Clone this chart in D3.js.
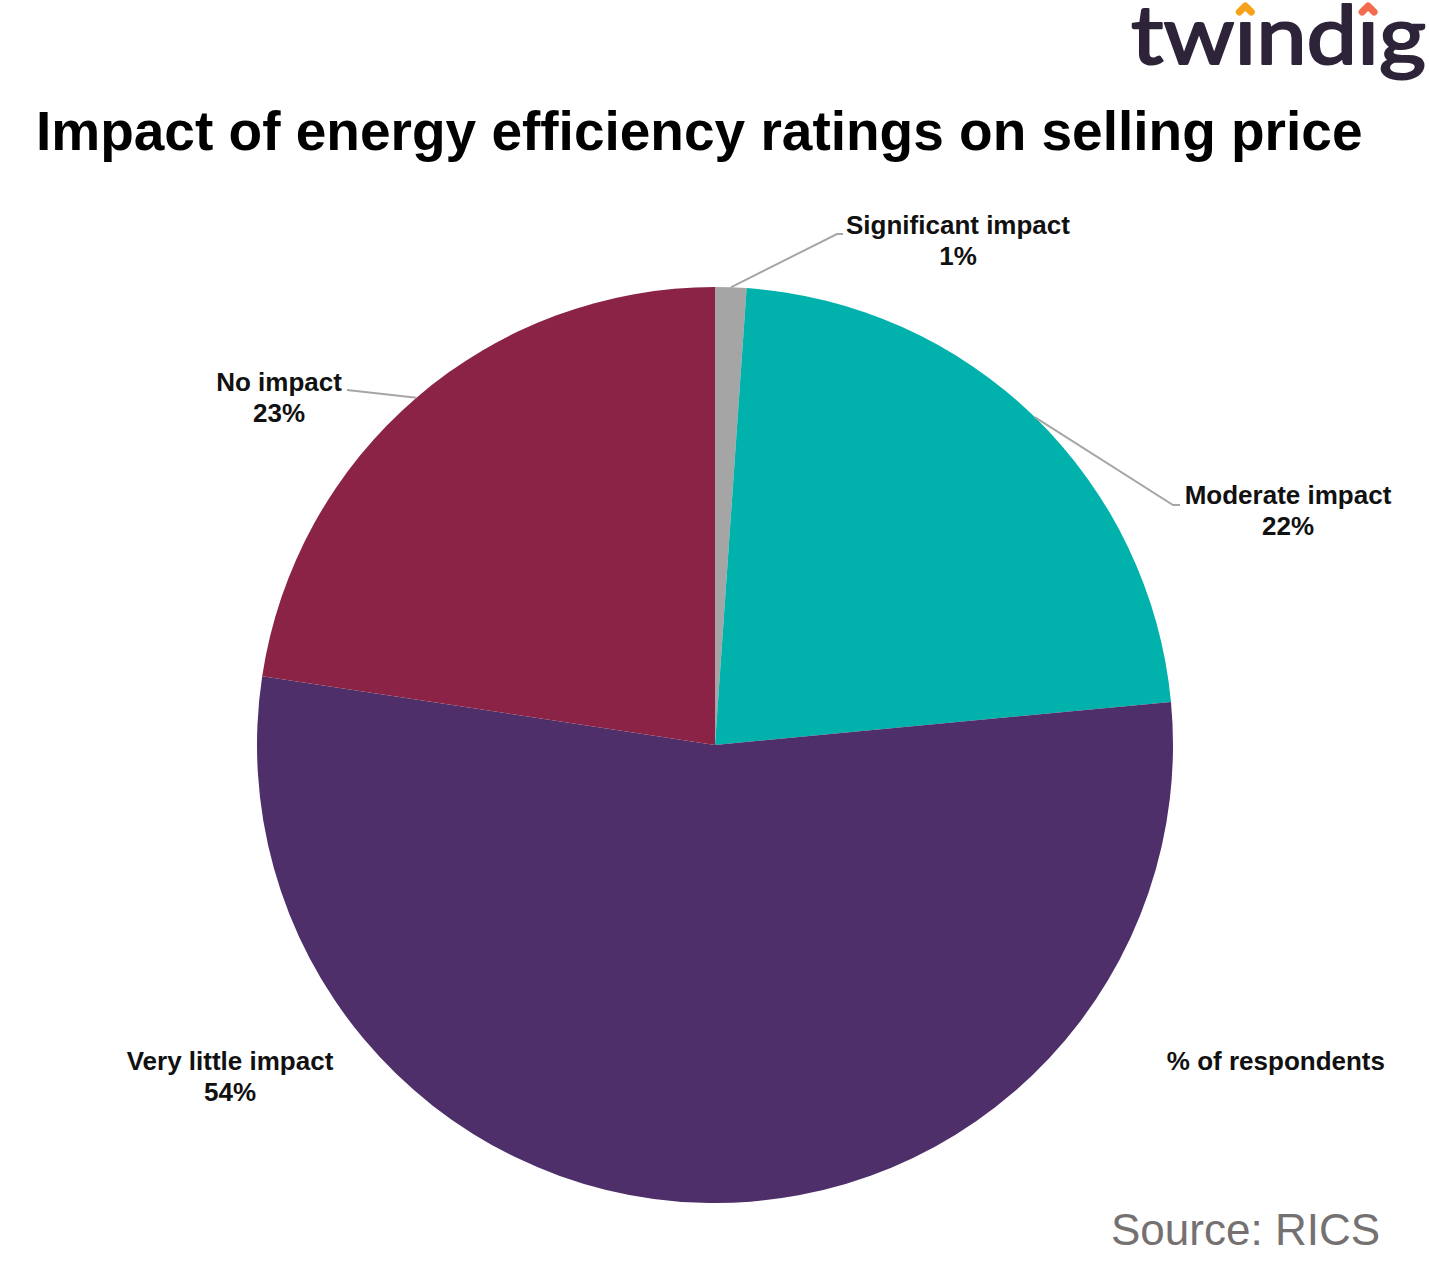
<!DOCTYPE html>
<html>
<head>
<meta charset="utf-8">
<script src="https://cdn.jsdelivr.net/npm/d3@7"></script>
<style>
  html, body { margin: 0; padding: 0; background: #ffffff; }
  svg { display: block; }
</style>
</head>
<body>
<svg id="chart" width="1429" height="1285"></svg>
<script>
// ---- data ----
const categories = ["Significant impact", "Moderate impact", "Very little impact", "No impact"];
const values = [1.1, 22.4, 53.9, 22.6];
const colors = ["#A5A5A5", "#00B2AB", "#4E2F69", "#8A2345"];
const titleText = "Impact of energy efficiency ratings on selling price";
const seriesName = "% of respondents";
const sourceText = "Source: RICS";
const brandText = "twindig";

// ---- layout ----
const W = 1429, H = 1285;
const cx = 715, cy = 745, R = 458;
const labelLayout = [
  { x: 958, y: 234, elbow: [837, 234], end: [843, 234] },
  { x: 1288, y: 504, elbow: [1173, 505], end: [1180, 505] },
  { x: 230, y: 1070, elbow: null },
  { x: 279, y: 391, elbow: [347, 390], end: [347, 390] }
];

const svg = d3.select("#chart");
svg.append("rect").attr("width", W).attr("height", H).attr("fill", "#fff");

// logo
const logo = svg.append("g");
const logoText = logo.append("text")
  .attr("x", 1131).attr("y", 64)
  .attr("font-family", "Lato, 'Open Sans', sans-serif")
  .attr("font-weight", 400)
  .attr("font-size", 82)
  .attr("fill", "#2E2439")
  .attr("stroke", "#2E2439")
  .attr("stroke-width", 2.2)
  .attr("stroke-linejoin", "round")
  .attr("textLength", 295)
  .attr("lengthAdjust", "spacingAndGlyphs")
  .text(brandText);
const caretColors = ["#F7A21B", "#F26B4F"];
[2, 5].forEach((ci, k) => {
  let ext;
  try { ext = logoText.node().getExtentOfChar(ci); } catch (e) { ext = null; }
  const mx = ext ? ext.x + ext.width / 2 : (k === 0 ? 1247 : 1370);
  logo.append("rect")
    .attr("x", mx - 9).attr("y", 0).attr("width", 18).attr("height", 18)
    .attr("fill", "#fff");
  logo.append("path")
    .attr("d", `M${mx - 6},${12} L${mx},${6} L${mx + 6},${12}`)
    .attr("fill", "none")
    .attr("stroke", caretColors[k])
    .attr("stroke-width", 7)
    .attr("stroke-linecap", "round")
    .attr("stroke-linejoin", "round");
});

// title
svg.append("text")
  .attr("x", 36).attr("y", 150)
  .attr("font-family", "'Liberation Sans', Arial, sans-serif")
  .attr("font-weight", "bold")
  .attr("font-size", 55)
  .attr("fill", "#000")
  .text(titleText);

// pie
const pie = d3.pie().sort(null).value(d => d)
  .startAngle(0).endAngle(2 * Math.PI);
const arcs = pie(values);
const arc = d3.arc().innerRadius(0).outerRadius(R);

const g = svg.append("g").attr("transform", `translate(${cx},${cy})`);
g.selectAll("path.slice")
  .data(arcs)
  .join("path")
  .attr("class", "slice")
  .attr("d", arc)
  .attr("fill", (d, i) => colors[i]);

// leader lines
const edge = d3.arc().innerRadius(R).outerRadius(R);
arcs.forEach((a, i) => {
  const L = labelLayout[i];
  if (!L.elbow) return;
  const p = edge.centroid(a);
  const pts = [[cx + p[0], cy + p[1]], L.elbow, L.end];
  svg.append("path")
    .attr("d", d3.line()(pts))
    .attr("fill", "none")
    .attr("stroke", "#A6A6A6")
    .attr("stroke-width", 2);
});

// labels
arcs.forEach((a, i) => {
  const L = labelLayout[i];
  const t = svg.append("text")
    .attr("text-anchor", "middle")
    .attr("font-family", "'Liberation Sans', Arial, sans-serif")
    .attr("font-weight", "bold")
    .attr("font-size", 26)
    .attr("fill", "#111");
  t.append("tspan").attr("x", L.x).attr("y", L.y).text(categories[i]);
  t.append("tspan").attr("x", L.x).attr("y", L.y + 31).text(Math.round(values[i]) + "%");
});

// series name
svg.append("text")
  .attr("x", 1385).attr("y", 1070)
  .attr("text-anchor", "end")
  .attr("font-family", "'Liberation Sans', Arial, sans-serif")
  .attr("font-weight", "bold")
  .attr("font-size", 26)
  .attr("fill", "#111")
  .text(seriesName);

// source
svg.append("text")
  .attr("x", 1380).attr("y", 1245)
  .attr("text-anchor", "end")
  .attr("font-family", "'Liberation Sans', Arial, sans-serif")
  .attr("font-size", 44)
  .attr("fill", "#767171")
  .text(sourceText);
</script>
</body>
</html>
